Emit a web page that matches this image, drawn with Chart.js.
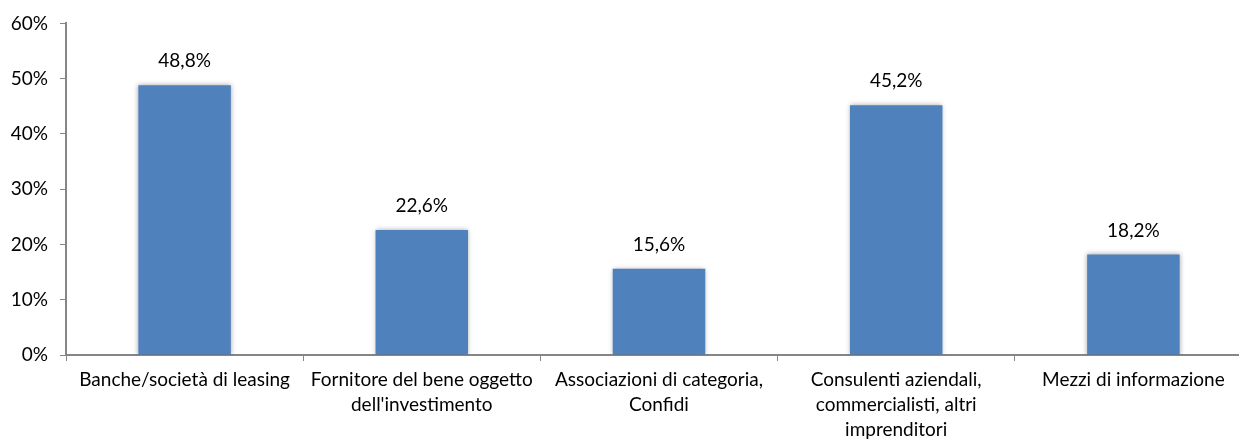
<!DOCTYPE html>
<html lang="it">
<head>
    <meta charset="UTF-8">
    <title>Fonti di informazione</title>
    <script src="https://cdn.jsdelivr.net/npm/chart.js"></script>
    <style>
        html, body { margin: 0; padding: 0; background: #fff; overflow: hidden; }
        #wrap { width: 1252px; height: 441px; position: relative; }
    </style>
</head>
<body>
    <div id="wrap"><canvas id="barChart"></canvas></div>

    <script>
        // Data
        var categories = [
            ['Banche/società di leasing'],
            ['Fornitore del bene oggetto', "dell'investimento"],
            ['Associazioni di categoria,', 'Confidi'],
            ['Consulenti aziendali,', 'commercialisti, altri', 'imprenditori'],
            ['Mezzi di informazione']
        ];
        var values = [48.8, 22.6, 15.6, 45.2, 18.2];
        var yTicks = [0, 10, 20, 30, 40, 50, 60];

        var FONT = 'Lato, "Open Sans", sans-serif';
        var axisGray = '#868686';

        // soft shadow behind the bars
        var barShadow = {
            id: 'barShadow',
            beforeDatasetsDraw: function (chart) {
                var ctx = chart.ctx;
                ctx.save();
                ctx.shadowColor = 'rgba(0,0,0,0.35)';
                ctx.shadowBlur = 5;
                ctx.shadowOffsetX = 0;
                ctx.shadowOffsetY = 0;
            },
            afterDatasetsDraw: function (chart) {
                chart.ctx.restore();
            }
        };

        // value labels above the bars
        var valueLabels = {
            id: 'valueLabels',
            afterDatasetsDraw: function (chart) {
                var ctx = chart.ctx;
                var meta = chart.getDatasetMeta(0);
                ctx.save();
                ctx.font = '19px ' + FONT;
                ctx.fillStyle = '#000';
                ctx.textAlign = 'center';
                ctx.textBaseline = 'middle';
                meta.data.forEach(function (bar, i) {
                    var txt = values[i].toFixed(1).replace('.', ',') + '%';
                    ctx.fillText(txt, bar.x, bar.y - 24);
                });
                ctx.restore();
            }
        };

        var ctx = document.getElementById('barChart').getContext('2d');
        var chart = new Chart(ctx, {
            type: 'bar',
            data: {
                labels: categories,
                datasets: [{
                    data: values,
                    backgroundColor: '#4F81BD',
                    borderWidth: 0,
                    barPercentage: 0.39,
                    categoryPercentage: 1
                }]
            },
            options: {
                responsive: true,
                maintainAspectRatio: false,
                animation: false,
                layout: { padding: { top: 22, right: 0, left: 0, bottom: 0 } },
                plugins: {
                    legend: { display: false },
                    tooltip: { enabled: false }
                },
                scales: {
                    x: {
                        offset: true,
                        grid: {
                            offset: true,
                            drawOnChartArea: false,
                            drawTicks: true,
                            tickLength: 6,
                            color: axisGray
                        },
                        border: { color: axisGray, width: 2 },
                        ticks: {
                            color: '#000',
                            font: { family: FONT, size: 19, lineHeight: 1.33 },
                            maxRotation: 0,
                            autoSkip: false,
                            padding: 6
                        },
                        afterFit: function (scale) { scale.height = 86; }
                    },
                    y: {
                        min: 0,
                        max: 60,
                        afterBuildTicks: function (scale) {
                            scale.ticks = yTicks.map(function (v) { return { value: v }; });
                        },
                        grid: {
                            drawOnChartArea: false,
                            drawTicks: true,
                            tickLength: 6,
                            color: axisGray
                        },
                        border: { color: axisGray, width: 2 },
                        ticks: {
                            color: '#000',
                            font: { family: FONT, size: 19 },
                            padding: 12,
                            callback: function (v) { return v + '%'; }
                        },
                        afterFit: function (scale) { scale.width = 66; }
                    }
                }
            },
            plugins: [barShadow, valueLabels]
        });
    </script>
</body>
</html>
